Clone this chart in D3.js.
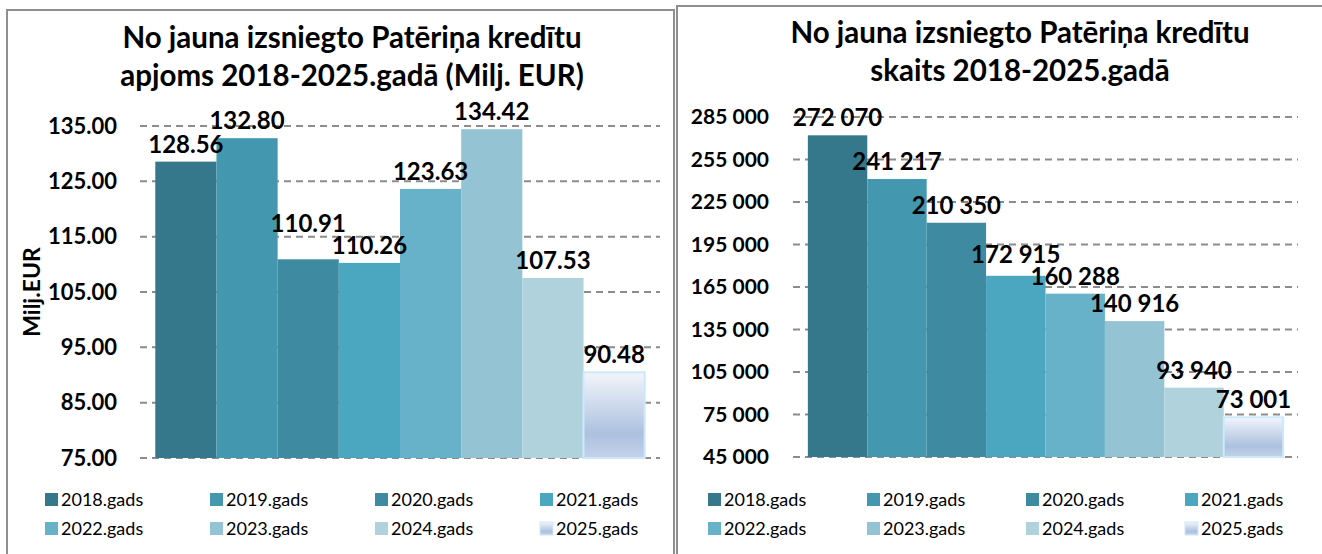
<!DOCTYPE html>
<html>
<head>
<meta charset="utf-8">
<script src="https://cdn.jsdelivr.net/npm/d3@7"></script>
<style>
  body { margin: 0; background: #fff; }
  text { font-family: Lato, "Noto Sans", sans-serif; }
</style>
</head>
<body>
<script>
'use strict';

const W = 1322;
const H = 554;

// data
const years = ['2018.gads', '2019.gads', '2020.gads', '2021.gads', '2022.gads', '2023.gads', '2024.gads', '2025.gads'];
const amountValues = [128.56, 132.80, 110.91, 110.26, 123.63, 134.42, 107.53, 90.48];
const countValues = [272070, 241217, 210350, 172915, 160288, 140916, 93940, 73001];
const amountTicks = [75, 85, 95, 105, 115, 125, 135];
const countTicks = [45000, 75000, 105000, 135000, 165000, 195000, 225000, 255000, 285000];
const amountTitle = ['No jauna izsniegto Patēriņa kredītu', 'apjoms 2018-2025.gadā (Milj. EUR)'];
const countTitle = ['No jauna izsniegto Patēriņa kredītu', 'skaits 2018-2025.gadā'];

const colors = ['#35788b', '#4398b0', '#3e8aa0', '#4ba7c0', '#67b2c9', '#94c3d3', '#afd2dd', 'url(#grad2025)'];

const lv = d3.formatLocale({decimal: '.', thousands: ' ', grouping: [3], currency: ['', '']});
const fmtCount = lv.format(',d');
const fmtAmount = d3.format('.2f');

const svg = d3.select('body').append('svg').attr('width', W).attr('height', H);

// gradient for the (partial) 2025 bar
const grad = svg.append('defs').append('linearGradient')
  .attr('id', 'grad2025').attr('x1', 0).attr('y1', 0).attr('x2', 0).attr('y2', 1);
grad.append('stop').attr('offset', '0%').attr('stop-color', '#f2f5fb');
grad.append('stop').attr('offset', '72%').attr('stop-color', '#acc1df');
grad.append('stop').attr('offset', '100%').attr('stop-color', '#c2d2ea');

// panel frames
svg.append('rect').attr('x', 7).attr('y', 10).attr('width', 667).attr('height', 560)
  .attr('fill', 'none').attr('stroke', '#8f8f8f').attr('stroke-width', 2);
svg.append('rect').attr('x', 677).attr('y', 6).attr('width', 700).attr('height', 560)
  .attr('fill', 'none').attr('stroke', '#8f8f8f').attr('stroke-width', 2);

function drawChart(o) {
  const g = svg.append('g');

  // title
  g.selectAll('.title')
    .data(o.title)
    .enter()
    .append('text')
    .attr('x', o.titleX)
    .attr('y', (d, i) => o.titleY + i * 38)
    .attr('text-anchor', 'middle')
    .attr('font-size', 29.5)
    .attr('font-weight', 'bold')
    .attr('fill', '#000')
    .text(d => d);

  const x = d3.scaleBand().domain(years).range([o.x0, o.x1]).paddingInner(0).paddingOuter(0.25);
  const y = d3.scaleLinear().domain([o.ticks[0], o.ticks[o.ticks.length - 1]]).range([o.y0, o.y1]);

  // gridlines
  g.selectAll('.grid')
    .data(o.ticks)
    .enter()
    .append('line')
    .attr('x1', o.x0).attr('x2', o.x1)
    .attr('y1', d => y(d)).attr('y2', d => y(d))
    .attr('stroke', '#8c8c8c')
    .attr('stroke-width', 2)
    .attr('stroke-dasharray', '7,5');

  // y axis labels
  const axis = g.append('g')
    .attr('transform', `translate(${o.x0},0)`)
    .call(d3.axisLeft(y).tickValues(o.ticks).tickFormat(o.tickFmt).tickSize(0).tickPadding(o.x0 - o.labelRight));
  axis.select('.domain').remove();
  axis.selectAll('text')
    .attr('font-family', 'Lato, sans-serif')
    .attr('font-size', o.tickSize)
    .attr('font-weight', 'bold')
    .attr('fill', '#000');

  // bars
  g.selectAll('.bar')
    .data(o.values)
    .enter()
    .append('rect')
    .attr('x', (d, i) => x(years[i]))
    .attr('y', d => y(d))
    .attr('width', x.bandwidth())
    .attr('height', d => y(o.ticks[0]) - y(d))
    .attr('fill', (d, i) => colors[i])
    .attr('stroke', (d, i) => i === 7 ? '#cde8fb' : 'none')
    .attr('stroke-width', 2);

  // value labels
  const fs = 24;
  const labels = g.selectAll('.val')
    .data(o.values)
    .enter()
    .append('text')
    .attr('x', (d, i) => x(years[i]) + x.bandwidth() / 2)
    .attr('y', d => y(d) - 9)
    .attr('text-anchor', 'middle')
    .attr('font-size', fs)
    .attr('font-weight', 'bold')
    .attr('fill', '#000')
    .text(d => o.valFmt(d));

  // push a label up when it collides with the next one
  const nodes = labels.nodes();
  for (let i = nodes.length - 2; i >= 0; i--) {
    const a = nodes[i].getBBox();
    const b = nodes[i + 1].getBBox();
    const ya = +nodes[i].getAttribute('y');
    const yb = +nodes[i + 1].getAttribute('y');
    const capH = fs * 0.75;
    if (a.x + a.width > b.x && Math.abs(ya - yb) < capH + 3) {
      nodes[i].setAttribute('y', Math.min(ya, yb - capH - 4));
    }
  }

  // y axis title
  if (o.yTitle) {
    g.append('text')
      .attr('transform', `translate(${o.yTitleX},${(o.y0 + o.y1) / 2}) rotate(-90)`)
      .attr('text-anchor', 'middle')
      .attr('font-size', 23)
      .attr('font-weight', 'bold')
      .text(o.yTitle);
  }

  // legend, 4 per row
  const leg = g.selectAll('.leg')
    .data(years)
    .enter()
    .append('g')
    .attr('transform', (d, i) => `translate(${o.legX + (i % 4) * o.legStep},${o.legY + Math.floor(i / 4) * 29})`);
  leg.append('rect')
    .attr('x', 0).attr('y', -13)
    .attr('width', 13).attr('height', 13)
    .attr('fill', (d, i) => colors[i])
    .attr('stroke', (d, i) => i === 7 ? '#cde8fb' : 'none');
  leg.append('text')
    .attr('x', 16)
    .attr('y', 0)
    .attr('font-size', 18)
    .attr('fill', '#000')
    .text(d => d);
}

drawChart({
  title: amountTitle, titleX: 352, titleY: 48,
  values: amountValues, ticks: amountTicks,
  x0: 140, x1: 660, y0: 458, y1: 126, labelRight: 117, tickSize: 22,
  tickFmt: fmtAmount, valFmt: fmtAmount,
  yTitle: 'Milj.EUR', yTitleX: 40,
  legX: 45, legStep: 165, legY: 506
});

drawChart({
  title: countTitle, titleX: 1020, titleY: 43,
  values: countValues, ticks: countTicks,
  x0: 793, x1: 1298, y0: 457, y1: 117, labelRight: 769, tickSize: 21,
  tickFmt: fmtCount, valFmt: fmtCount,
  yTitle: null,
  legX: 708, legStep: 159, legY: 506
});
</script>
</body>
</html>
